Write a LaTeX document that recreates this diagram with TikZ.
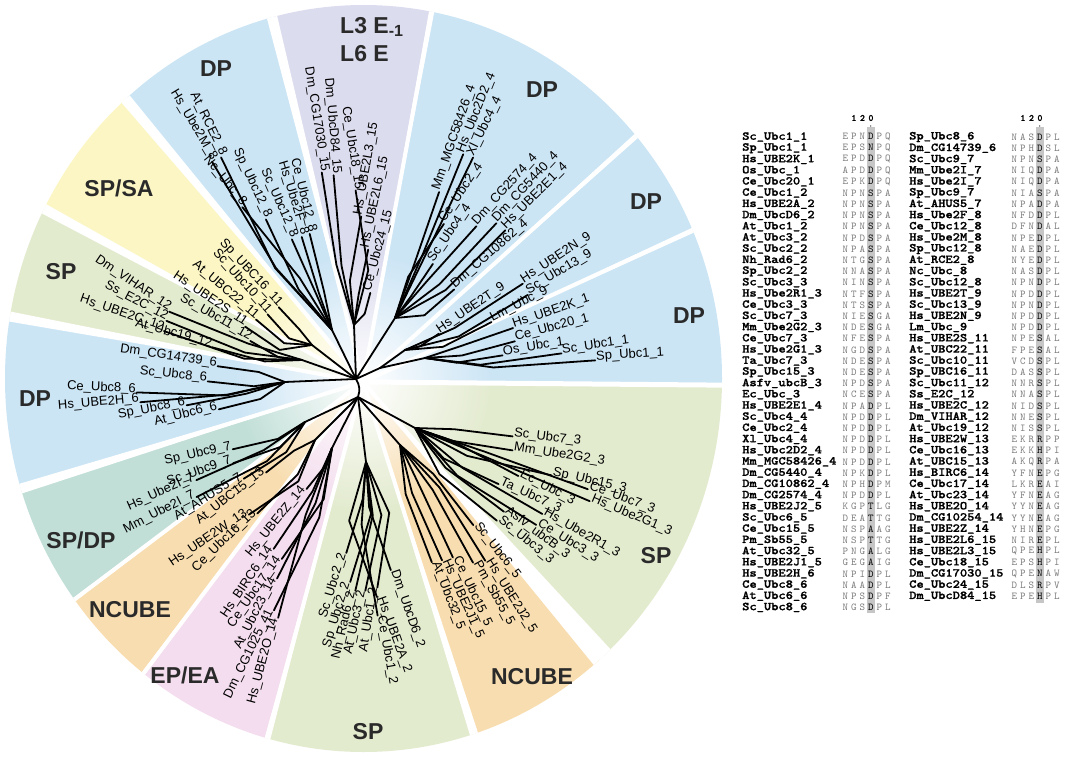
\documentclass[tikz,border=0pt]{standalone}
\usepackage{fontspec}
\setmainfont{Liberation Sans}
\newfontfamily\nmfont{lmmonolt10-bold}[Extension=.otf, FakeBold=1.2]
\usetikzlibrary{fadings,calc}
\definecolor{cblue}{HTML}{CCE5F5}
\definecolor{cpurp}{HTML}{DCDCEF}
\definecolor{cyell}{HTML}{FBF6C4}
\definecolor{cgreen}{HTML}{E3EBCF}
\definecolor{corange}{HTML}{F8DDB0}
\definecolor{cpink}{HTML}{F4DDEE}
\definecolor{cteal}{HTML}{C1DFD7}
\definecolor{labgray}{HTML}{2A2A2A}
\definecolor{seqgray}{HTML}{7A7A7A}
\definecolor{barcol}{HTML}{C6C6C6}
\tikzfading[name=cfade, inner color=transparent!0, outer color=transparent!100]
\newcommand\sqc[1]{\makebox[8.5pt][c]{#1}}
\newcommand\sq[6]{\textcolor{seqgray}{\sqc{#1}\sqc{#2}\sqc{#3}}\sqc{#4}\textcolor{seqgray}{\sqc{#5}\sqc{#6}}}
% leaf: [line angle], name, parent, x, y, outward angle, text
\newcommand\leafR[7][]{\node[lab,anchor=west,rotate=#6] (#2) at (#4,-#5) {#7};
  \edef\lang{\ifx&#1&#6\else#1\fi}%
  \draw[branch] let \p1=($(#2.base west)-(#3)$), \n1={0.6*veclen(\x1,\y1)} in (#3) -- ($(#2.base west)+(\lang+180:\n1)$) -- (#2.base west);}
\newcommand\leafL[7][]{\node[lab,anchor=east,rotate=#6-180] (#2) at (#4,-#5) {#7};
  \edef\lang{\ifx&#1&#6\else#1\fi}%
  \draw[branch] let \p1=($(#2.base east)-(#3)$), \n1={0.6*veclen(\x1,\y1)} in (#3) -- ($(#2.base east)+(\lang+180:\n1)$) -- (#2.base east);}
\newcommand\secw[3]{\fill[#1] (C) -- +(#2:700) -- +(#3:700) -- cycle;}
\newcommand\gapw[3]{\fill[white] (C) -- +(#1-#2:700) -- +(#1+#2:700) -- cycle; \draw[white,line width=#3pt] (C) -- +(#1:700);}
\begin{document}
\begin{tikzpicture}[x=1pt,y=1pt,
  lab/.style={font=\fontsize{13}{13}\selectfont, inner sep=1pt},
  branch/.style={line width=1.8pt, line cap=round, line join=round},
  big/.style={font=\fontsize{23}{23}\selectfont\bfseries, text=labgray, inner sep=0pt},
  nm/.style={anchor=west, inner sep=0pt, font=\fontsize{12}{12}\selectfont\nmfont, xscale=1.15, transform shape},
  sqn/.style={anchor=west, inner sep=0pt, font=\fontsize{10.5}{10.5}\selectfont\ttfamily}]
\useasboundingbox (0,0) rectangle (1065,-757);
\coordinate (C) at (363,-382);
% ---------- sectors ----------
\begin{scope}
\clip (363.5,-378.5) ellipse [x radius=358.5, y radius=373.5];
\secw{cgreen}{-49}{-0.5}
\secw{cblue}{-0.5}{24.7}
\secw{cblue}{24.7}{42}
\secw{cblue}{42}{79.5}
\secw{cpurp}{79.5}{104}
\secw{cblue}{104}{130}
\secw{cyell}{130}{151.5}
\secw{cgreen}{151.5}{169.5}
\secw{cblue}{169.5}{197.3}
\secw{cteal}{197.3}{217}
\secw{corange}{217}{233}
\secw{cpink}{233}{255}
\secw{cgreen}{255}{287.5}
\secw{corange}{287.5}{311}
\gapw{-49}{1.8}{4}
\gapw{-0.5}{0.15}{5}
\gapw{24.7}{0.4}{4}
\gapw{42}{0.4}{4}
\gapw{79.5}{0.4}{4}
\gapw{104}{0.8}{4}
\gapw{130}{0.85}{4}
\gapw{151.5}{0.8}{4}
\gapw{169.5}{0.8}{4}
\gapw{197.3}{0.8}{4}
\gapw{217}{0.3}{4}
\gapw{233}{0.3}{4}
\gapw{255}{0.45}{4}
\gapw{287.5}{0.65}{4}
\end{scope}
\fill[white, path fading=cfade] (C) circle (128);
% ---------- group labels ----------
\node[big] (gDPa) at (216,-69) {DP};
\node[big, anchor=north west, align=left] (gL) at (340,-17) {L3 E\textsubscript{-1}\\[5pt]L6 E};
\node[big] (gDPb) at (542,-90) {DP};
\node[big] (gDPc) at (646,-202) {DP};
\node[big] (gDPd) at (689,-316) {DP};
\node[big] (gSPa) at (656,-556) {SP};
\node[big] (gNCa) at (532,-677) {NCUBE};
\node[big] (gSPb) at (368,-732) {SP};
\node[big] (gEP) at (185,-675) {EP/EA};
\node[big] (gNCb) at (130,-610) {NCUBE};
\node[big] (gSPDP) at (81,-540) {SP/DP};
\node[big] (gDPe) at (35,-399) {DP};
\node[big] (gSPc) at (61,-272) {SP};
\node[big] (gSPSA) at (119,-188) {SP/SA};
% ---------- tree internal nodes ----------
\coordinate (U) at (356,-379);
\coordinate (L) at (358,-397);
\coordinate (n19) at (380,-368);
\coordinate (n1) at (425,-358);
\coordinate (n9) at (405,-350);
\coordinate (n4) at (395,-318);
\coordinate (n15) at (354,-325);
\coordinate (n8) at (332,-330);
\coordinate (n11) at (312,-345);
\coordinate (n12) at (302,-360);
\coordinate (n6) at (285,-382);
\coordinate (n7) at (305,-422);
\coordinate (n13) at (315,-440);
\coordinate (n14) at (332,-448);
\coordinate (n2) at (366,-462);
\coordinate (n5) at (400,-445);
\coordinate (n3) at (415,-428);
\draw[branch] (U) to[bend left=25] (L);
\foreach \a/\b in {U/n19,n19/n1,n19/n9,U/n4,U/n15,U/n8,U/n11,U/n12,U/n6,L/n7,L/n13,L/n14,L/n2,L/n5,L/n3}
  \draw[branch] (\a) -- (\b);
% class 1 and 9
\leafR{s1}{n1}{595}{357}{4}{Sp\_Ubc1\_1}
\leafR{s2}{n1}{561}{350}{8}{Sc\_Ubc1\_1}
\leafR{s3}{n1}{502}{352}{9}{Os\_Ubc\_1}
\leafR{s4}{n1}{514}{338}{15}{Ce\_Ubc20\_1}
\leafR{s5}{n1}{512}{325}{19}{Hs\_UBE2K\_1}
\leafR{s6}{n9}{490}{319}{27}{Lm\_Ubc\_9}
\leafR{s7}{n9}{437}{331}{34}{Hs\_UBE2T\_9}
\leafR{s8}{n9}{526}{292}{31}{Sc\_Ubc13\_9}
\leafR{s9}{n9}{521}{281}{33}{Hs\_UBE2N\_9}
% class 4
\leafR{s10}{n4}{503}{228}{45}{Hs\_UBE2E1\_4}
\leafR{s11}{n4}{494}{221}{47}{Dm\_CG5440\_4}
\leafR{s12}{n4}{474}{224}{48}{Dm\_CG2574\_4}
\leafR{s13}{n4}{452}{287}{41}{Dm\_CG10862\_4}
\leafR{s14}{n4}{430}{262}{56}{Sc\_Ubc4\_4}
\leafR{s15}{n4}{441}{222}{56}{Ce\_Ubc2\_4}
\leafR{s16}{n4}{436}{191}{71}{Mm\_MGC58426\_4}
\leafR{s17}{n4}{460}{153}{68}{Hs\_Ubc2D2\_4}
\leafR{s18}{n4}{470}{156}{64}{Xl\_Ubc4\_4}
% class 15
\leafR{s19}{n15}{367}{292}{75}{Ce\_Ubc24\_15}
\leafR{s20}{n15}{365}{249}{78}{Hs\_UBE2L6\_15}
\leafR{s21}{n15}{358}{216}{80}{Hs\_UBE2L3\_15}
\leafL{s22}{n15}{359}{190}{99}{Ce\_Ubc18\_15}
\leafL{s23}{n15}{337}{175}{95}{Dm\_UbcD84\_15}
\leafL{s24}{n15}{325}{172}{99}{Dm\_CG17030\_15}
% class 8
\leafL{s25}{n8}{313}{233}{104}{Ce\_Ubc12\_8}
\leafL{s26}{n8}{305}{236}{107}{Hs\_Ube2F\_8}
\leafL{s27}{n8}{295}{238}{114}{Sc\_Ubc12\_8}
\leafL{s28}{n8}{269}{218}{115}{Sp\_Ubc12\_8}
\leafL{s29}{n8}{245}{205}{129}{Nc\_Ubc\_8}
\leafL{s30}{n8}{215}{160}{121}{Hs\_Ube2M\_8}
\leafL{s31}{n8}{224}{156}{116}{At\_RCE2\_8}
% class 11
\leafL{s32}{n11}{281}{305}{133}{Sp\_UBC16\_11}
\leafL{s33}{n11}{270}{312}{132}{Sc\_Ubc10\_11}
\leafL{s34}{n11}{258}{317}{140}{At\_UBC22\_11}
\leafL{s35}{n11}{247}{324}{146}{Hs\_UBE2S\_11}
% class 12
\leafL{s36}{n12}{252}{338}{150}{Sc\_Ubc11\_12}
\leafL[158]{s37}{n12}{171}{309}{146}{Dm\_VIHAR\_12}
\leafL[158]{s38}{n12}{168}{318}{152}{Ss\_E2C\_12}
\leafL{s39}{n12}{165}{328}{161}{Hs\_UBE2C\_12}
\leafL{s40}{n12}{213}{344}{165}{At\_Ubc19\_12}
% class 6
\leafL{s41}{n6}{218}{363}{172}{Dm\_CG14739\_6}
\leafL{s42}{n6}{208}{378}{174}{Sc\_Ubc8\_6}
\leafL{s43}{n6}{137}{389}{178}{Ce\_Ubc8\_6}
\leafL{s44}{n6}{140}{399}{185}{Hs\_UBE2H\_6}
\leafL{s45}{n6}{186}{402}{191}{Sp\_Ubc8\_6}
\leafL{s46}{n6}{218}{406}{194}{At\_Ubc6\_6}
% class 7
\leafL{s47}{n7}{232}{446}{193}{Sp\_Ubc9\_7}
\leafL{s48}{n7}{232}{460}{199}{Sc\_Ubc9\_7}
\leafL{s49}{n7}{195}{477}{204}{Hs\_Ube2I\_7}
\leafL{s50}{n7}{195}{494}{207}{Mm\_Ube2I\_7}
\leafL{s51}{n7}{242}{476}{212}{At\_AHUS5\_7}
% class 13
\leafL{s52}{n13}{264}{470}{218}{At\_UBC15\_13}
\leafL{s53}{n13}{247}{512}{214}{Hs\_UBE2W\_13}
\leafL{s54}{n13}{255}{511}{224}{Ce\_Ubc16\_13}
% class 14
\leafL{s55}{n14}{304}{487}{231}{Hs\_UBE2Z\_14}
\leafL{s56}{n14}{271}{547}{236}{Hs\_BIRC6\_14}
\leafL{s57}{n14}{279}{557}{235}{Ce\_Ubc17\_14}
\leafL{s58}{n14}{274}{577}{243}{At\_Ubc23\_14}
\leafL{s59}{n14}{271}{609}{244}{Dm\_CG1025\_41}
\leafL{s60}{n14}{275}{617}{255}{Hs\_UBE2O\_14}
% class 2
\leafL{s61}{n2}{343}{552}{253}{Sc\_Ubc2\_2}
\leafL{s62}{n2}{347}{581}{253}{Sp\_Ubc2\_2}
\leafL{s63}{n2}{352}{590}{257}{Nh\_Rad6\_2}
\leafL{s64}{n2}{362}{590}{258}{At\_Ubc3\_2}
\leafL{s65}{n2}{374}{587}{261}{At\_Ubc1\_2}
\leafR{s66}{n2}{381}{615}{-80}{Ce\_Ubc1\_2}
\leafR{s67}{n2}{380}{596}{-70}{Hs\_UBE2A\_2}
\leafR{s68}{n2}{394}{569}{-71}{Dm\_UbcD6\_2}
% class 5
\leafR{s69}{n5}{435}{561}{-69}{At\_Ubc32\_5}
\leafR{s70}{n5}{445}{559}{-66}{Hs\_UBE2J1\_5}
\leafR{s71}{n5}{456}{556}{-65}{Ce\_Ubc15\_5}
\leafR{s72}{n5}{476}{561}{-61}{Pm\_Sb55\_5}
\leafR{s73}{n5}{488}{559}{-58}{Hs\_UBE2J2\_5}
\leafR{s74}{n5}{476}{523}{-52}{Sc\_Ubc6\_5}
% class 3
\leafR{s75}{n3}{513}{433}{-7}{Sc\_Ubc7\_3}
\leafR{s76}{n3}{513}{447}{-9}{Mm\_Ube2G2\_3}
\leafR{s77}{n3}{552}{472}{-13}{Sp\_Ubc15\_3}
\leafR{s78}{n3}{589}{486}{-20}{Ce\_Ubc7\_3}
\leafR{s79}{n3}{591}{498}{-23}{Hs\_Ube2G1\_3}
\leafR{s80}{n3}{520}{473}{-28}{Ec\_Ubc\_3}
\leafR{s81}{n3}{500}{481}{-25}{Ta\_Ubc7\_3}
\leafR{s82}{n3}{544}{511}{-30}{Hs\_Ube2R1\_3}
\leafR{s83}{n3}{538}{522}{-32}{Ce\_Ubc3\_3}
\leafR{s84}{n3}{506}{509}{-37}{Asfv\_ubcB\_3}
\leafR{s85}{n3}{499}{518}{-39}{Sc\_Ubc3\_3}
% ---------- alignment table ----------
\fill[barcol] (866.5,-127) rectangle (875,-613);
\fill[barcol] (1035.5,-127) rectangle (1044,-603);
\node[sqn, font=\fontsize{9.5}{9.5}\selectfont\nmfont] (hL) at (841,-118) {\sqc{}\sqc{1}\sqc{2}\sqc{0}};
\node[sqn, font=\fontsize{9.5}{9.5}\selectfont\nmfont] (hR) at (1010,-118) {\sqc{}\sqc{1}\sqc{2}\sqc{0}};
\fill (870.75,-126) circle (0.7);
\fill (1039.75,-126) circle (0.7);
\foreach \n/\s [count=\i] in {Sc\_Ubc1\_1/EPNDPQ, Sp\_Ubc1\_1/EPSNPQ, Hs\_UBE2K\_1/EPDDPQ, Os\_Ubc\_1/APDDPQ, Ce\_Ubc20\_1/EPKDPQ, Ce\_Ubc1\_2/NPNSPA, Hs\_UBE2A\_2/NPNSPA, Dm\_UbcD6\_2/NPNSPA, At\_Ubc1\_2/NPNSPA, At\_Ubc3\_2/NPDSPA, Sc\_Ubc2\_2/NPASPA, Nh\_Rad6\_2/NTGSPA, Sp\_Ubc2\_2/NNASPA, Sc\_Ubc3\_3/NINSPA, Hs\_Ube2R1\_3/NTFSPA, Ce\_Ubc3\_3/NTSSPA, Sc\_Ubc7\_3/NIESGA, Mm\_Ube2G2\_3/NDESGA, Ce\_Ubc7\_3/NFESPA, Hs\_Ube2G1\_3/NGDSPA, Ta\_Ubc7\_3/NDESPA, Sp\_Ubc15\_3/NDESPA, Asfv\_ubcB\_3/NPDSPA, Ec\_Ubc\_3/NCESPA, Hs\_UBE2E1\_4/NPADPL, Sc\_Ubc4\_4/NPDDPL, Ce\_Ubc2\_4/NPDDPL, Xl\_Ubc4\_4/NPDDPL, Hs\_Ubc2D2\_4/NPDDPL, Mm\_MGC58426\_4/NPDDPL, Dm\_CG5440\_4/NPKDPL, Dm\_CG10862\_4/NPHDPM, Dm\_CG2574\_4/NPDDPL, Hs\_UBE2J2\_5/KGPTLG, Sc\_Ubc6\_5/DEATTG, Ce\_Ubc15\_5/NSPAAG, Pm\_Sb55\_5/NSPTTG, At\_Ubc32\_5/PNGALG, Hs\_UBE2J1\_5/GEGAIG, Hs\_UBE2H\_6/NPIDPL, Ce\_Ubc8\_6/NAADPL, At\_Ubc6\_6/NPSDPF, Sc\_Ubc8\_6/NGSDPL}{
  \node[nm] (tl\i) at (742,{-137-11.2*(\i-1)}) {\n};
  \node[sqn] (ql\i) at (841,{-137-11.2*(\i-1)}) {\expandafter\sq\s};
}
\foreach \n/\s [count=\i] in {Sp\_Ubc8\_6/NASDPL, Dm\_CG14739\_6/NPHDSL, Sc\_Ubc9\_7/NPNSPA, Mm\_Ube2I\_7/NIQDPA, Hs\_Ube2I\_7/NIQDPA, Sp\_Ubc9\_7/NIASPA, At\_AHUS5\_7/NPADPA, Hs\_Ube2F\_8/NFDDPL, Ce\_Ubc12\_8/DFNDAL, Hs\_Ube2M\_8/NPEDPL, Sp\_Ubc12\_8/NAEDPL, At\_RCE2\_8/NYEDPL, Nc\_Ubc\_8/NASDPL, Sc\_Ubc12\_8/NPNDPL, Hs\_UBE2T\_9/NPDDPL, Sc\_Ubc13\_9/NPNDPL, Hs\_UBE2N\_9/NPDDPL, Lm\_Ubc\_9/NPDDPL, Hs\_UBE2S\_11/NPESAL, At\_UBC22\_11/FPESAL, Sc\_Ubc10\_11/VCDSPL, Sp\_UBC16\_11/DASSPL, Sc\_Ubc11\_12/NNRSPL, Ss\_E2C\_12/NNASPL, Hs\_UBE2C\_12/NIDSPL, Dm\_VIHAR\_12/NNESPL, At\_Ubc19\_12/NISSPL, Hs\_UBE2W\_13/EKRRPP, Ce\_Ubc16\_13/EKKHPI, At\_UBC15\_13/AKQRPA, Hs\_BIRC6\_14/YFNEPG, Ce\_Ubc17\_14/LKREAI, At\_Ubc23\_14/YFNEAG, Hs\_UBE2O\_14/YYNEAG, Dm\_CG10254\_14/YYNEAG, Hs\_UBE2Z\_14/YHNEPG, Hs\_UBE2L6\_15/NIREPL, Hs\_UBE2L3\_15/QPEHPL, Ce\_Ubc18\_15/EPSHPI, Dm\_CG17030\_15/QPENAW, Ce\_Ubc24\_15/DLSRPV, Dm\_UbcD84\_15/EPEHPL}{
  \node[nm] (tr\i) at (909,{-137-11.2*(\i-1)}) {\n};
  \node[sqn] (qr\i) at (1010,{-137-11.2*(\i-1)}) {\expandafter\sq\s};
}
\end{tikzpicture}
\end{document}
